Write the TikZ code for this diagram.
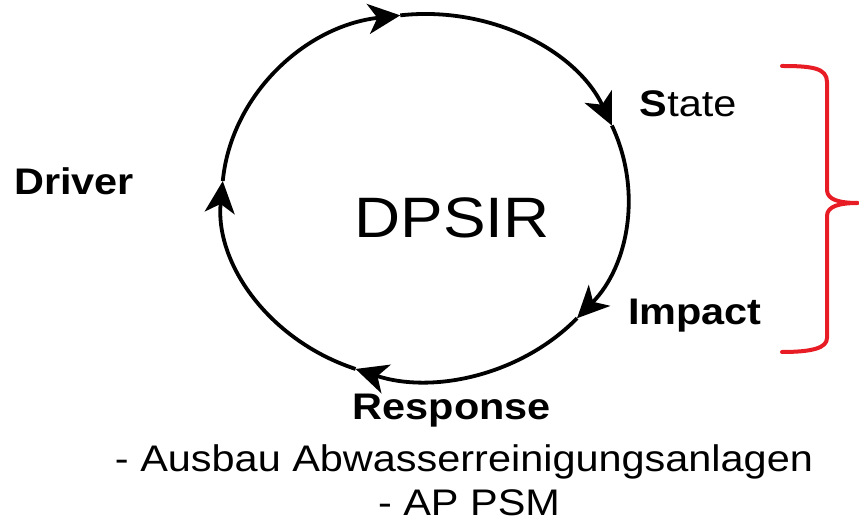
\documentclass[tikz,border=0pt]{standalone}
\usepackage{fontspec}
\setmainfont{Liberation Sans}
\usetikzlibrary{arrows.meta,calc}
\definecolor{bracered}{RGB}{232,28,36}
\newcommand{\hs}[1]{\scalebox{1.12}[1]{#1}}
\begin{document}
\begin{tikzpicture}[x=1pt,y=1pt,
  lbl/.style={inner sep=0pt,anchor=base,font=\fontsize{37}{41}\selectfont},
  cyc/.style={line width=3.8pt,-{Stealth[length=32pt,width=30pt,inset=9pt]}},
  brace/.style={draw=bracered,line width=4pt,line cap=round,line join=round}]
\useasboundingbox (0,0) rectangle (859,524);
\coordinate (c) at (425,327);
\coordinate (a1) at ($(c)+(97:203 and 183)$);
\coordinate (a2) at ($(c)+(23:203 and 183)$);
\coordinate (a3) at ($(c)+(-41.5:203 and 183)$);
\coordinate (a4) at ($(c)+(-110:203 and 183)$);
\coordinate (a5) at ($(c)+(175:203 and 183)$);
\draw[cyc] (a1) arc[start angle=97,end angle=23,x radius=203,y radius=183];
\draw[cyc] (a2) arc[start angle=23,end angle=-41.5,x radius=203,y radius=183];
\draw[cyc] (a3) arc[start angle=-41.5,end angle=-110,x radius=203,y radius=183];
\draw[cyc] (a4) arc[start angle=-110,end angle=-185,x radius=203,y radius=183];
\draw[cyc] (a5) arc[start angle=175,end angle=97,x radius=203,y radius=183];
\node[lbl,font=\fontsize{57}{62}\selectfont] (dpsir) at (452,286) {\hs{DPSIR}};
\node[lbl] (driver) at (74,329) {\hs{\textbf{Driver}}};
\node[lbl] (state) at (688,407) {\hs{\textbf{S}tate}};
\node[lbl] (impact) at (695,199) {\hs{\textbf{Impact}}};
\node[lbl] (resp) at (452,104) {\hs{\textbf{Response}}};
\node[lbl] (l2) at (464,52) {\hs{- Ausbau Abwasserreinigungsanlagen}};
\node[lbl] (l3) at (469,8) {\hs{- AP PSM}};
\draw[brace] (782,458) .. controls (812,458) and (827,456) .. (827,442) -- (827,334)
  .. controls (827,324) and (840,321) .. (858,321)
  .. controls (840,321) and (827,318) .. (827,308) -- (827,186)
  .. controls (827,176) and (812,172) .. (782,172);
\end{tikzpicture}
\end{document}
